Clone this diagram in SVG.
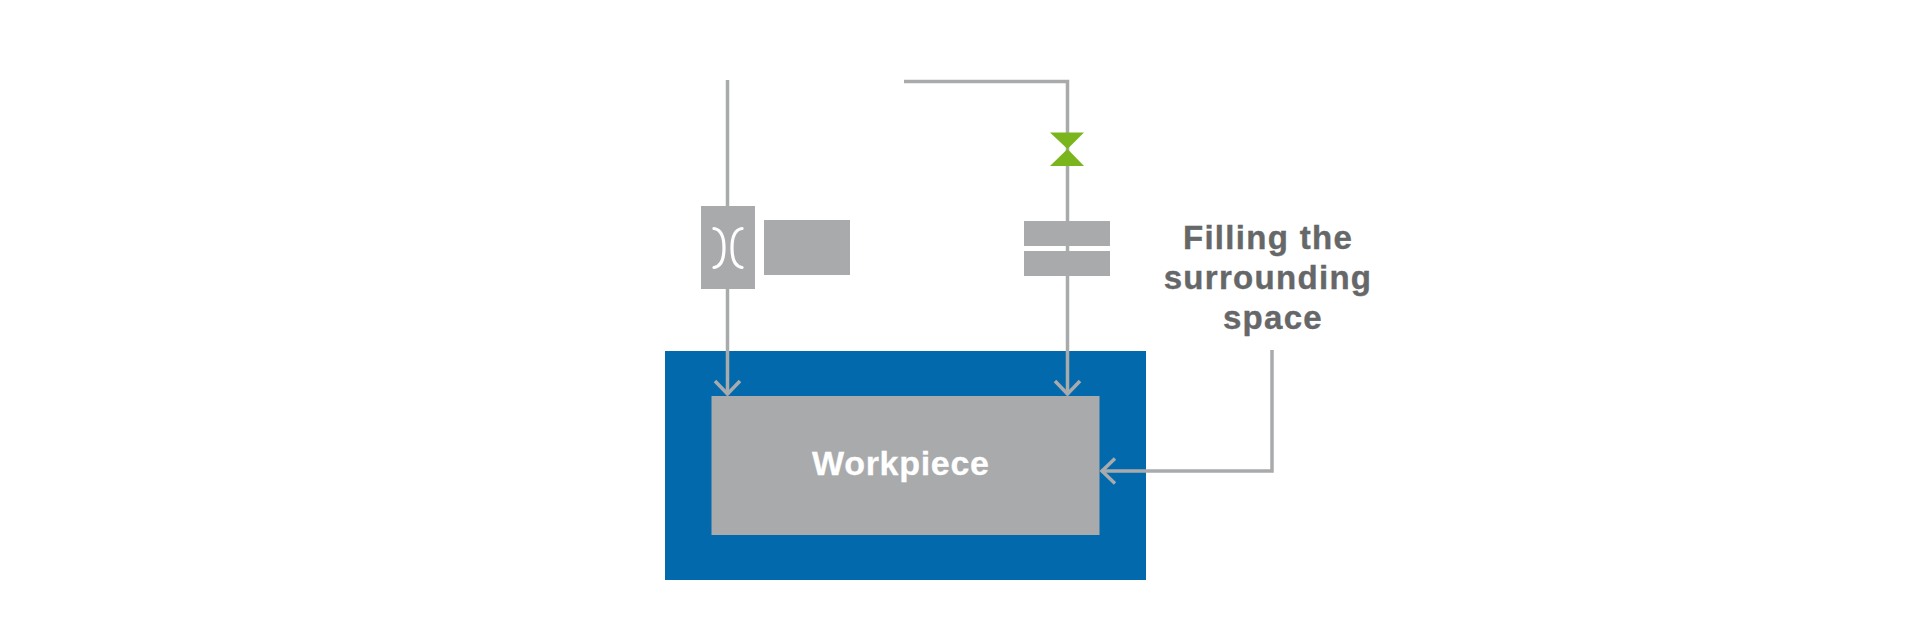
<svg xmlns="http://www.w3.org/2000/svg" width="1920" height="636" viewBox="0 0 1920 636">
<defs>
<style>
.box{fill:#a9aaac}
.line{fill:none;stroke:#a9aaac;stroke-width:3.500}
.label{font-family:"Liberation Sans",Arial,sans-serif;font-weight:bold}
.dark{fill:#666768;stroke:#666768;stroke-width:.4px;font-size:33px;letter-spacing:1.300px;text-anchor:middle}
</style>
<marker id="open" markerUnits="userSpaceOnUse" markerWidth="30" markerHeight="30" refX="17" refY="15" orient="auto">
<path d="M3 2.500L16 15L3 27.500" fill="none" stroke="#a9aaac" stroke-width="3.500"/>
</marker>
</defs>
<rect width="1920" height="636" fill="#fff"/>
<g id="space"><rect x="665" y="351" width="481" height="229" fill="#026aac"/></g>
<g id="workpiece"><rect class="box" x="711.500" y="396" width="388" height="139"/>
<text class="label" x="812" y="475" font-size="34" letter-spacing=".700" fill="#fff" stroke="#fff" stroke-width=".3">Workpiece</text></g>
<g id="connectors">
<path class="line" d="M727.500 80V395" marker-end="url(#open)"/>
<path class="line" d="M904 81.500H1067.500V395" marker-end="url(#open)"/>
<path class="line" d="M1272 350V471H1101" marker-end="url(#open)"/>
</g>
<g id="orifice"><rect class="box" x="701" y="206" width="54" height="83"/>
<path d="M714 228.500Q724 230 724 248Q724 266 714 267.500M742 228.500Q732 230 732 248Q732 266 742 267.500" fill="none" stroke="#fff" stroke-width="3.200" stroke-linecap="round"/></g>
<g id="block"><rect class="box" x="764" y="220" width="86" height="55"/></g>
<g id="valve"><path d="M1050 132.500H1084L1067.500 149L1084 166H1050L1067.500 149Z" fill="#7ab51d"/></g>
<g id="plates"><rect class="box" x="1024" y="221" width="86" height="25"/><rect class="box" x="1024" y="251" width="86" height="25"/></g>
<g id="filling"><text class="label dark" x="1268" y="249">Filling the</text>
<text class="label dark" x="1268" y="289">surrounding</text>
<text class="label dark" x="1273" y="329">space</text></g>
</svg>
